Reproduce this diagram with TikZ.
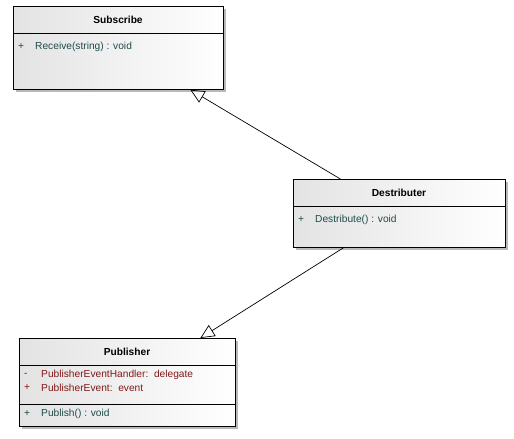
\documentclass[tikz,border=0pt]{standalone}
\usepackage{fontspec}
\setmainfont{Liberation Sans}
\usetikzlibrary{arrows.meta,shadows}
\definecolor{opcol}{RGB}{30,75,75}
\definecolor{attcol}{RGB}{130,25,25}
\tikzset{
  classbox/.style={draw, thick, anchor=north west, inner sep=0pt,
    left color=gray!22, right color=white,
    general shadow={fill=gray!55, shadow xshift=3pt, shadow yshift=-3pt}},
  classname/.style={font=\fontsize{10.2}{12}\selectfont\bfseries},
  op/.style={anchor=west, inner sep=0pt, text=opcol, font=\fontsize{10.2}{12}\selectfont},
  att/.style={anchor=west, inner sep=0pt, text=attcol, font=\fontsize{10.2}{12}\selectfont},
  inherit/.style={-{Triangle[open,length=14pt,width=13pt]}, line width=0.7pt}
}
\begin{document}
\begin{tikzpicture}[x=1pt,y=-1pt]
\useasboundingbox (0,0) rectangle (514,439);

% Subscribe
\node[classbox, minimum width=210pt, minimum height=83pt] (sub) at (13,6) {};
\draw[thick] (13,33)--(223,33);
\node[classname] (subname) at (118,20) {Subscribe};
\node[op] (subsign) at (18,47) {+};
\node[op] (subop) at (35,47) {Receive(string) : void};

% Destributer
\node[classbox, minimum width=212pt, minimum height=68pt] (dest) at (293,179) {};
\draw[thick] (293,206)--(505,206);
\node[classname] (destname) at (399,193) {Destributer};
\node[op] (destsign) at (298,220) {+};
\node[op] (destop) at (315,220) {Destribute() : void};

% Publisher
\node[classbox, minimum width=216pt, minimum height=88pt] (pub) at (19,338) {};
\draw[thick] (19,365)--(235,365);
\draw[thick] (19,404)--(235,404);
\node[classname] (pubname) at (127,352) {Publisher};
\node[att] (pubsign1) at (24,375) {-};
\node[att] (pubatt1) at (41,375) {PublisherEventHandler:\ \ delegate};
\node[att] (pubsign2) at (24,388) {+};
\node[att] (pubatt2) at (41,388) {PublisherEvent:\ \ event};
\node[op] (pubsign3) at (24,414) {+};
\node[op] (pubop) at (41,414) {Publish() : void};

% generalisations
\coordinate (destTop) at ([xshift=-59pt]dest.north);
\coordinate (destBot) at ([xshift=-56pt]dest.south);
\coordinate (subBot) at ([xshift=72pt]sub.south);
\coordinate (pubTop) at ([xshift=73pt]pub.north);
\draw[inherit] (destTop) -- (subBot);
\draw[inherit] (destBot) -- (pubTop);
\end{tikzpicture}
\end{document}
